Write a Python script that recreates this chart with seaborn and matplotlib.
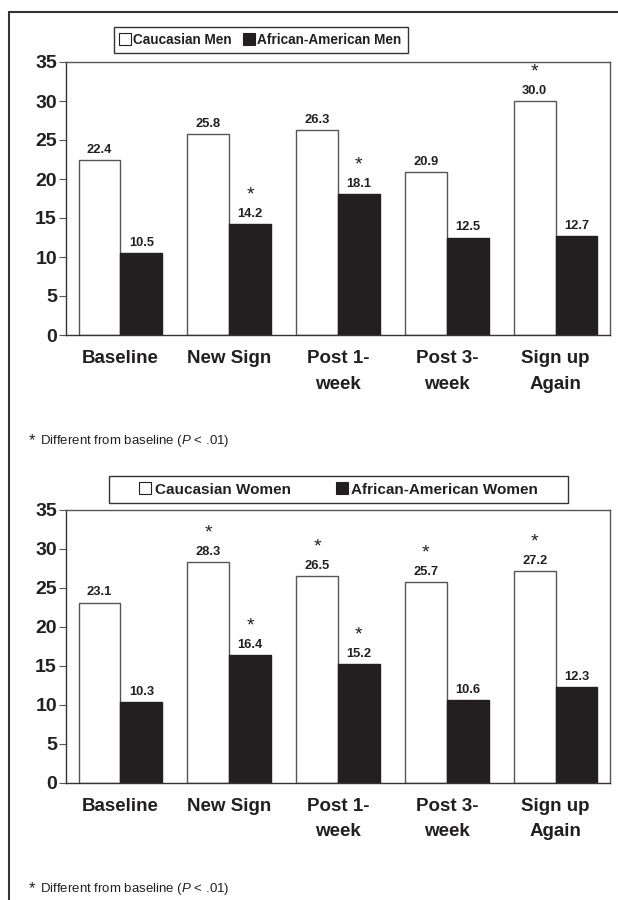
import matplotlib
matplotlib.use('Agg')
import matplotlib.pyplot as plt
import seaborn as sns
import pandas as pd
from matplotlib.lines import Line2D
from matplotlib.patches import Rectangle

# ---------------- data ----------------
categories = ['Baseline', 'New Sign', 'Post 1-\nweek', 'Post 3-\nweek', 'Sign up\nAgain']

men_groups = ['Caucasian Men', 'African-American Men']
men_caucasian = [22.4, 25.8, 26.3, 20.9, 30.0]
men_african = [10.5, 14.2, 18.1, 12.5, 12.7]
men_caucasian_sig = [False, False, False, False, True]
men_african_sig = [False, True, True, False, False]

women_groups = ['Caucasian Women', 'African-American Women']
women_caucasian = [23.1, 28.3, 26.5, 25.7, 27.2]
women_african = [10.3, 16.4, 15.2, 10.6, 12.3]
women_caucasian_sig = [False, True, True, True, True]
women_african_sig = [False, True, True, False, False]

y_ticks = [0, 5, 10, 15, 20, 25, 30, 35]
footnote = 'Different from baseline ($\\it{P}$ < .01)'

# ---------------- style ----------------
sns.set_theme(style='white')
plt.rcParams['font.family'] = ['Liberation Sans', 'DejaVu Sans']
plt.rcParams['mathtext.fontset'] = 'custom'
plt.rcParams['mathtext.rm'] = 'Liberation Sans'
plt.rcParams['mathtext.it'] = 'Liberation Sans:italic'

INK = '#231f20'
EDGE = '#555555'

W, H = 618, 900
fig = plt.figure(figsize=(W / 100, H / 100), dpi=100)
fig.patch.set_facecolor('white')


def fx(px):
    return px / W


def fy(py):
    return 1 - py / H


def draw_panel(ax, groups, cauc, afr, cauc_sig, afr_sig):
    df = pd.DataFrame({
        'time': categories * 2,
        'group': [groups[0]] * len(categories) + [groups[1]] * len(categories),
        'value': list(cauc) + list(afr),
    })
    sns.barplot(data=df, x='time', y='value', hue='group', order=categories,
                hue_order=groups, palette=['white', INK], saturation=1,
                width=0.77, errorbar=None, legend=False, ax=ax,
                edgecolor=EDGE, linewidth=1.0)
    sigs = [cauc_sig, afr_sig]
    for ci, cont in enumerate(ax.containers):
        for p in cont.patches:
            if ci == 1:
                p.set_edgecolor(INK)
        ax.bar_label(cont, labels=[f'{v:.1f}' for v in cont.datavalues],
                     padding=3, fontsize=9.3, fontweight='bold', color=INK)
        for p, s in zip(cont.patches, sigs[ci]):
            if s:
                ax.annotate('*', xy=(p.get_x() + p.get_width() / 2, p.get_height()),
                            xytext=(0, 21), textcoords='offset points',
                            ha='center', va='center', fontsize=14, color=INK)
    ax.set_ylim(0, 35)
    ax.set_xlim(-0.5, len(categories) - 0.5)
    ax.set_yticks(y_ticks)
    ax.set_yticklabels([str(t) for t in y_ticks], fontsize=14, fontweight='bold', color=INK)
    ax.set_xticks(range(len(categories)))
    ax.set_xticklabels(categories, fontsize=13.5, fontweight='bold', color=INK)
    for t in ax.get_xticklabels():
        t.set_linespacing(1.65)
    ax.set_xticks([i - 0.5 for i in range(len(categories) + 1)], minor=True)
    ax.tick_params(axis='x', which='major', length=0, pad=11)
    ax.tick_params(axis='x', which='minor', length=5, width=0.8, color=EDGE, direction='out')
    ax.tick_params(axis='y', which='major', length=5, width=0.8, color=EDGE,
                   direction='out', pad=1.5, left=True)
    ax.set_xlabel('')
    ax.set_ylabel('')
    for name, sp in ax.spines.items():
        sp.set_visible(True)
        sp.set_linewidth(1.0)
        sp.set_color(EDGE)
    ax.spines['left'].set_color('#333333')
    ax.spines['bottom'].set_color('#333333')
    ax.set_facecolor('white')


ax1 = fig.add_axes([fx(66), fy(335), fx(544), 273 / H])
draw_panel(ax1, men_groups, men_caucasian, men_african, men_caucasian_sig, men_african_sig)

ax2 = fig.add_axes([fx(66), fy(782.5), fx(544), 272.5 / H])
draw_panel(ax2, women_groups, women_caucasian, women_african, women_caucasian_sig, women_african_sig)


def handles():
    return [Line2D([], [], marker='s', linestyle='none', markersize=8,
                   markerfacecolor='white', markeredgecolor=INK, markeredgewidth=0.8),
            Line2D([], [], marker='s', linestyle='none', markersize=8,
                   markerfacecolor=INK, markeredgecolor=INK, markeredgewidth=0.8)]


# legends (frameless) with outlined boxes
fig.legend(handles(), men_groups, loc='center', bbox_to_anchor=(fx(261), fy(40)),
           ncol=2, frameon=False, handlelength=0.7, handletextpad=0.25,
           columnspacing=0.9, prop={'size': 9.8, 'weight': 'bold'}, labelcolor=INK)
fig.add_artist(Rectangle((fx(114), fy(53)), fx(294), 26 / H, transform=fig.transFigure,
                         fill=False, edgecolor='#333333', linewidth=1.0))

fig.legend(handles(), women_groups, loc='center', bbox_to_anchor=(fx(339), fy(489.5)),
           ncol=2, frameon=False, handlelength=0.7, handletextpad=0.25,
           columnspacing=3.0, prop={'size': 11, 'weight': 'bold'}, labelcolor=INK)
fig.add_artist(Rectangle((fx(109), fy(503)), fx(459), 27 / H, transform=fig.transFigure,
                         fill=False, edgecolor='#333333', linewidth=1.0))

# footnotes
for yy in (441, 889):
    fig.text(fx(32), fy(yy), '*', ha='center', va='center', fontsize=12, color=INK)
    fig.text(fx(40), fy(yy), footnote, ha='left', va='center', fontsize=9.5, color=INK)

# outer frame (top and left edges visible)
fig.add_artist(Line2D([fx(8.5), fx(8.5)], [0, fy(12)], transform=fig.transFigure,
                      color='#333333', linewidth=1.5))
fig.add_artist(Line2D([fx(8.5), 1], [fy(12), fy(12)], transform=fig.transFigure,
                      color='#333333', linewidth=1.5))

fig.savefig('out.png', dpi=100, facecolor='white')
